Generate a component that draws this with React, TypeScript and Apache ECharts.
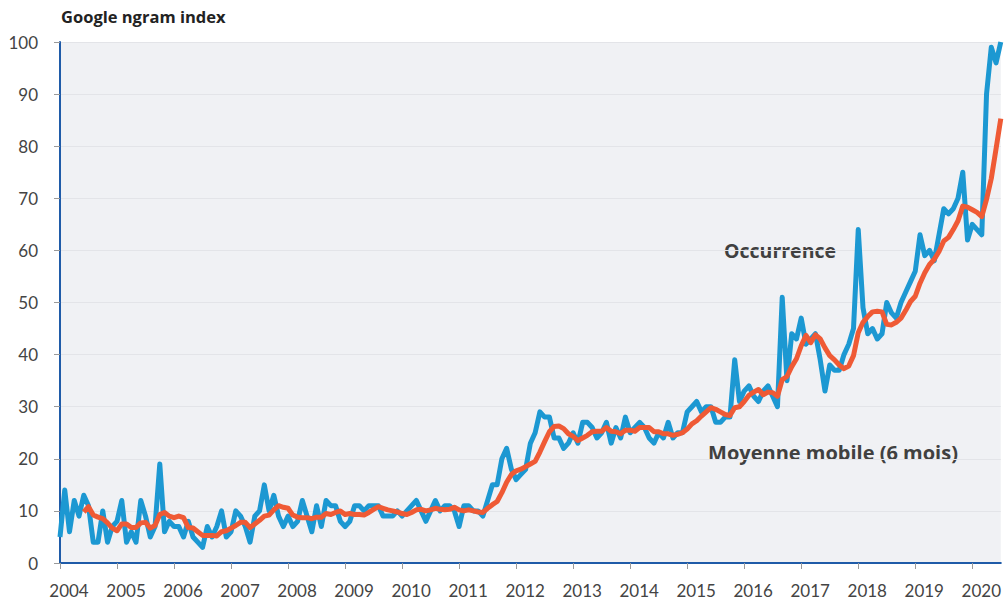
import React, { useEffect, useRef } from "react";
import * as echarts from "echarts";

const startYear = 2004;
const yearLabels = ["2004", "2005", "2006", "2007", "2008", "2009", "2010", "2011", "2012", "2013", "2014", "2015", "2016", "2017", "2018", "2019", "2020"];
const yTickValues = [0, 10, 20, 30, 40, 50, 60, 70, 80, 90, 100];

// Monthly Google ngram index, Jan 2004 - Jul 2020
const occurrence = [
  5, 14, 6, 12, 9, 13, 11, 4, 4, 10, 4, 7,
  8, 12, 4, 6, 4, 12, 9, 5, 7, 19, 6, 8,
  7, 7, 5, 8, 5, 4, 3, 7, 5, 7, 10, 5,
  6, 10, 9, 7, 4, 9, 10, 15, 10, 13, 9, 7,
  9, 7, 8, 12, 9, 6, 11, 7, 12, 11, 11, 8,
  7, 8, 11, 11, 10, 11, 11, 11, 9, 9, 9, 10,
  9, 10, 11, 12, 10, 8, 10, 12, 10, 11, 11, 10,
  7, 11, 11, 10, 10, 9, 12, 15, 15, 20, 22, 18,
  16, 17, 18, 23, 25, 29, 28, 28, 24, 24, 22, 23,
  25, 23, 27, 27, 26, 24, 25, 27, 23, 26, 24, 28,
  25, 26, 27, 26, 24, 23, 25, 24, 27, 24, 25, 25,
  29, 30, 31, 29, 30, 30, 27, 27, 28, 28, 39, 31,
  33, 34, 32, 31, 33, 34, 32, 30, 51, 35, 44, 43,
  47, 42, 43, 44, 39, 33, 38, 37, 37, 40, 42, 45,
  64, 49, 44, 45, 43, 44, 50, 48, 47, 50, 52, 54,
  56, 63, 59, 60, 58, 63, 68, 67, 68, 70, 75, 62,
  65, 64, 63, 90, 99, 96, 100,
];

// 6-month moving average
const movingAverage = [
  null, null, null, null, null, 9.8, 10.8, 9.2, 8.8, 8.5, 7.7, 6.7,
  6.2, 7.5, 7.5, 6.8, 6.8, 7.7, 7.8, 6.7, 7.2, 9.3, 9.7, 9.0,
  8.7, 9.0, 8.7, 6.8, 6.7, 6.0, 5.3, 5.3, 5.3, 5.2, 6.0, 6.2,
  6.7, 7.2, 7.8, 7.8, 6.8, 7.5, 8.2, 9.0, 9.2, 10.2, 11.0, 10.7,
  10.5, 9.2, 8.8, 8.7, 8.7, 8.5, 8.8, 8.8, 9.5, 9.3, 9.7, 10.0,
  9.3, 9.5, 9.3, 9.3, 9.2, 9.7, 10.3, 10.8, 10.5, 10.2, 10.0, 9.8,
  9.5, 9.3, 9.7, 10.2, 10.3, 10.0, 10.2, 10.5, 10.3, 10.2, 10.3, 10.7,
  10.2, 10.0, 10.2, 10.0, 9.8, 9.7, 10.5, 11.2, 11.8, 13.5, 15.5, 17.0,
  17.7, 18.0, 18.5, 19.0, 19.5, 21.3, 23.3, 25.2, 26.2, 26.3, 25.8, 24.8,
  24.3, 23.5, 24.0, 24.5, 25.2, 25.3, 25.3, 26.0, 25.3, 25.2, 24.8, 25.5,
  25.5, 25.3, 26.0, 26.0, 26.0, 25.2, 25.2, 24.8, 24.8, 24.5, 24.7, 25.0,
  25.7, 26.7, 27.3, 28.2, 29.0, 29.8, 29.5, 29.0, 28.5, 28.3, 29.8, 30.0,
  31.0, 32.2, 32.8, 33.3, 32.3, 32.8, 32.7, 32.0, 35.2, 35.8, 37.7, 39.2,
  41.7, 43.7, 42.3, 43.8, 43.0, 41.3, 39.8, 39.0, 38.0, 37.3, 37.8, 39.8,
  44.2, 46.2, 47.3, 48.2, 48.3, 48.2, 45.8, 45.7, 46.2, 47.0, 48.5, 50.2,
  51.2, 53.7, 55.7, 57.3, 58.3, 59.8, 61.8, 62.5, 64.0, 65.7, 68.5, 68.3,
  67.8, 67.3, 66.5, 69.8, 73.8, 79.5, 85.3,
];

const FONT = "'Open Sans', Lato, sans-serif";
const LABEL_FONT = "Lato, 'Open Sans', sans-serif";

export default function App() {
  const ref = useRef<HTMLDivElement>(null);

  useEffect(() => {
    const chart = echarts.init(ref.current!, null, { renderer: "svg" });
    const blueData = occurrence.map((v, i) => [i, v]);
    const orangeData = movingAverage.map((v, i) => [i, v]);
    chart.setOption({
      animation: false,
      backgroundColor: "#ffffff",
      textStyle: { fontFamily: FONT },
      grid: {
        left: 60,
        right: 0,
        top: 42,
        bottom: 38,
        show: true,
        backgroundColor: "#f0f1f4",
        borderWidth: 0,
      },
      xAxis: {
        type: "value",
        min: 0,
        max: occurrence.length - 1,
        interval: 12,
        axisLine: { show: true, lineStyle: { color: "#1f5ba8", width: 2 } },
        axisTick: { show: true, length: 6, lineStyle: { color: "#9a9a9a", width: 1 } },
        axisLabel: {
          color: "#444444",
          fontSize: 17,
          fontFamily: LABEL_FONT,
          margin: 19,
          padding: [0, 0, 0, 18],
          showMaxLabel: false,
          formatter: (v: number) => yearLabels[Math.round(v / 12)] ?? "",
        },
        splitLine: { show: false },
      },
      yAxis: {
        type: "value",
        min: yTickValues[0],
        max: yTickValues[yTickValues.length - 1],
        interval: 10,
        axisLine: { show: true, lineStyle: { color: "#1f5ba8", width: 2 } },
        axisTick: { show: true, length: 6, lineStyle: { color: "#9a9a9a", width: 1 } },
        axisLabel: { color: "#444444", fontSize: 17, fontFamily: LABEL_FONT, margin: 22 },
        splitLine: { show: true, lineStyle: { color: "#e3e4e8", width: 1 } },
      },
      graphic: [
        {
          type: "text",
          left: 61,
          top: 8,
          style: { text: "Google ngram index", fill: "#222222", font: `bold 16.5px ${FONT}` },
        },
        {
          type: "text",
          x: 780,
          y: 250,
          style: {
            text: "Occurrence",
            fill: "#404040",
            font: `bold 19.5px ${FONT}`,
            align: "center",
            verticalAlign: "middle",
          },
        },
        {
          type: "text",
          x: 833,
          y: 452,
          style: {
            text: "Moyenne mobile (6 mois)",
            fill: "#404040",
            font: `bold 20px ${FONT}`,
            align: "center",
            verticalAlign: "middle",
          },
        },
      ],
      series: [
        {
          name: "Occurrence",
          type: "line",
          data: blueData,
          showSymbol: false,
          symbol: "none",
          lineStyle: { color: "#1c98d2", width: 5, join: "round" },
          z: 2,
        },
        {
          name: "Moyenne mobile (6 mois)",
          type: "line",
          data: orangeData,
          showSymbol: false,
          symbol: "none",
          connectNulls: false,
          lineStyle: { color: "#ef5a35", width: 5, join: "round" },
          z: 3,
        },
      ],
    });
    return () => chart.dispose();
  }, []);

  return (
    <div
      ref={ref}
      style={{ position: "fixed", left: 0, top: 0, width: 1004, height: 601 }}
    />
  );
}
